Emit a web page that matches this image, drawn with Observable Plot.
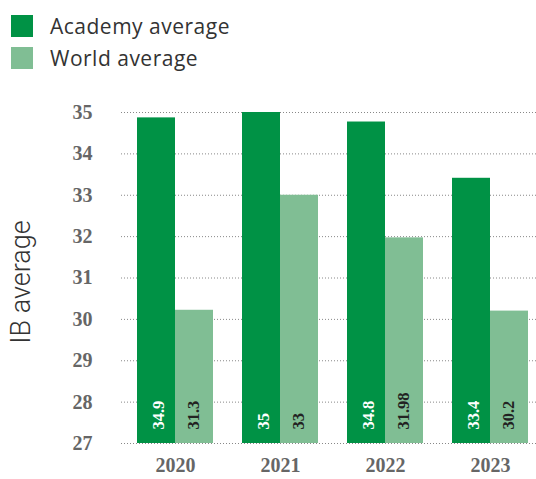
<!DOCTYPE html>
<html>
<head>
<meta charset="utf-8">
<script src="https://cdn.jsdelivr.net/npm/d3@7"></script>
<script src="https://cdn.jsdelivr.net/npm/@observablehq/plot@0.6"></script>
<style>
  body { margin: 0; background: #fff; }
  #legend { position: relative; height: 78px; width: 536px; font-family: "Open Sans", sans-serif; color: #333; }
  .item { position: absolute; left: 11px; display: flex; align-items: center; font-size: 21px; letter-spacing: 0.5px; }
  .sw { width: 22px; height: 22px; margin-right: 17px; }
  #chart svg { display: block; }
</style>
</head>
<body>
<div id="legend"></div>
<div id="chart"></div>
<script>
const years = ["2020", "2021", "2022", "2023"];
const academyValues = [34.87, 35.0, 34.77, 33.41];
const worldValues = [30.22, 33.0, 31.97, 30.2];
const academyLabels = ["34.9", "35", "34.8", "33.4"];
const worldLabels = ["31.3", "33", "31.98", "30.2"];
const yTicks = [27, 28, 29, 30, 31, 32, 33, 34, 35];
const yDomain = [27, 35];
const seriesNames = ["Academy average", "World average"];
const seriesColors = ["#009245", "#80be94"];

const legend = document.getElementById("legend");
seriesNames.forEach((name, i) => {
  const d = document.createElement("div");
  d.className = "item";
  d.style.top = (12 + i * 32) + "px";
  d.innerHTML = `<div class="sw" style="background:${seriesColors[i]}"></div><span>${name}</span>`;
  legend.appendChild(d);
});

const table = years.map((year, i) => ({
  year,
  academy: academyValues[i],
  world: worldValues[i],
  academyLabel: academyLabels[i],
  worldLabel: worldLabels[i]
}));

const serif = "'Liberation Serif', 'DejaVu Serif', serif";

const chart = Plot.plot({
  width: 536,
  height: 401,
  marginLeft: 121,
  marginRight: 0,
  marginTop: 34,
  marginBottom: 36,
  x: { domain: years, paddingInner: 0.2785, paddingOuter: 0.109, align: 0.652, axis: null },
  y: { domain: yDomain, axis: null },
  marks: [
    Plot.ruleY(yTicks, { stroke: "#888", strokeDasharray: "1,2", strokeWidth: 1 }),
    Plot.barY(table, { x: "year", y1: () => yDomain[0], y2: "academy", fill: seriesColors[0], insetRight: 38 }),
    Plot.barY(table, { x: "year", y1: () => yDomain[0], y2: "world", fill: seriesColors[1], insetLeft: 38 }),
    Plot.text(table, { x: "year", y: () => yDomain[0], text: "academyLabel", rotate: -90, textAnchor: "start", lineAnchor: "middle", dx: -17, dy: -14, fill: "#fff", fontFamily: serif, fontWeight: "bold", fontSize: 16.5 }),
    Plot.text(table, { x: "year", y: () => yDomain[0], text: "worldLabel", rotate: -90, textAnchor: "start", lineAnchor: "middle", dx: 18, dy: -14, fill: "#222", fontFamily: serif, fontWeight: "bold", fontSize: 16.5 }),
    Plot.axisY({ ticks: yTicks, tickSize: 0, tickPadding: 29, fill: "#666", fontFamily: serif, fontWeight: "bold", fontSize: 20, label: null }),
    Plot.axisX({ tickSize: 0, tickPadding: 14, fill: "#666", fontFamily: serif, fontWeight: "bold", fontSize: 20, label: null }),
    Plot.text(["IB average"], { frameAnchor: "left", rotate: -90, textAnchor: "middle", lineAnchor: "middle", dx: -100, dy: 4, fill: "#333", fontFamily: "Roboto, 'Liberation Sans', sans-serif", fontWeight: 300, fontSize: 27 })
  ]
});
document.getElementById("chart").appendChild(chart);
</script>
</body>
</html>
